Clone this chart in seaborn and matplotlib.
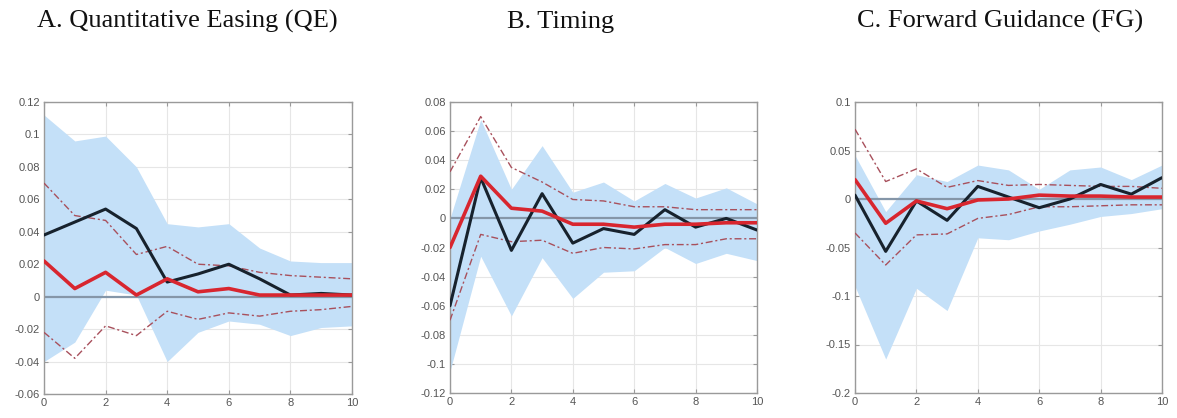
import numpy as np
import pandas as pd
import seaborn as sns
import matplotlib.pyplot as plt

sns.set_style("whitegrid")
plt.rcParams['font.family'] = ['Liberation Sans', 'DejaVu Sans']

horizon = list(range(11))

# A. QE
qe_median = [0.038, 0.046, 0.054, 0.042, 0.009, 0.014, 0.020, 0.011, 0.001, 0.002, 0.001]
qe_mean = [0.022, 0.005, 0.015, 0.001, 0.011, 0.003, 0.005, 0.001, 0.001, 0.001, 0.001]
qe_hi = [0.070, 0.050, 0.047, 0.026, 0.031, 0.020, 0.019, 0.015, 0.013, 0.012, 0.011]
qe_lo = [-0.022, -0.038, -0.018, -0.024, -0.009, -0.014, -0.010, -0.012, -0.009, -0.008, -0.006]
qe_band_hi = [0.112, 0.096, 0.099, 0.080, 0.045, 0.043, 0.045, 0.030, 0.022, 0.021, 0.021]
qe_band_lo = [-0.040, -0.028, 0.004, 0.001, -0.040, -0.022, -0.015, -0.017, -0.024, -0.019, -0.018]

# B. Timing
tm_median = [-0.060, 0.028, -0.022, 0.017, -0.017, -0.007, -0.011, 0.006, -0.006, 0.000, -0.008]
tm_mean = [-0.020, 0.029, 0.007, 0.005, -0.004, -0.004, -0.006, -0.004, -0.004, -0.003, -0.003]
tm_hi = [0.032, 0.070, 0.035, 0.025, 0.013, 0.012, 0.008, 0.008, 0.006, 0.006, 0.006]
tm_lo = [-0.070, -0.011, -0.016, -0.015, -0.024, -0.020, -0.021, -0.018, -0.018, -0.014, -0.014]
tm_band_hi = [0.000, 0.068, 0.020, 0.050, 0.018, 0.025, 0.012, 0.024, 0.014, 0.021, 0.010]
tm_band_lo = [-0.105, -0.026, -0.067, -0.027, -0.055, -0.037, -0.036, -0.020, -0.031, -0.024, -0.029]

# C. FG
fg_median = [0.004, -0.054, -0.002, -0.022, 0.013, 0.002, -0.009, 0.000, 0.015, 0.005, 0.022]
fg_mean = [0.020, -0.025, -0.002, -0.010, -0.001, 0.000, 0.004, 0.003, 0.003, 0.002, 0.002]
fg_hi = [0.072, 0.018, 0.031, 0.012, 0.019, 0.014, 0.015, 0.014, 0.013, 0.013, 0.011]
fg_lo = [-0.035, -0.068, -0.037, -0.036, -0.020, -0.016, -0.008, -0.008, -0.007, -0.006, -0.006]
fg_band_hi = [0.045, -0.013, 0.025, 0.018, 0.035, 0.030, 0.010, 0.030, 0.033, 0.020, 0.035]
fg_band_lo = [-0.090, -0.165, -0.092, -0.115, -0.040, -0.042, -0.033, -0.026, -0.018, -0.015, -0.010]

titles = ["A. Quantitative Easing (QE)", "B. Timing", "C. Forward Guidance (FG)"]
title_x = [37, 507, 857]

panels = [
    (qe_median, qe_mean, qe_hi, qe_lo, qe_band_hi, qe_band_lo, (-0.06, 0.12), np.arange(-0.06, 0.121, 0.02)),
    (tm_median, tm_mean, tm_hi, tm_lo, tm_band_hi, tm_band_lo, (-0.12, 0.08), np.arange(-0.12, 0.081, 0.02)),
    (fg_median, fg_mean, fg_hi, fg_lo, fg_band_hi, fg_band_lo, (-0.2, 0.1), np.arange(-0.2, 0.101, 0.05)),
]

# axes boxes in pixels: left, top, right, bottom
boxes = [(44, 102, 352, 394), (450, 102, 757, 393), (855, 102, 1162, 393)]

W, H = 1177, 418
fig = plt.figure(figsize=(W / 100, H / 100), dpi=100)

for i, (med, mean, hi, lo, bhi, blo, ylim, yt) in enumerate(panels):
    l, t, r, b = boxes[i]
    ax = fig.add_axes([l / W, 1 - b / H, (r - l) / W, (b - t) / H])
    df = pd.DataFrame({"h": horizon, "med": med, "mean": mean, "hi": hi, "lo": lo})

    ax.fill_between(horizon, blo, bhi, color='#c4e0f8', lw=0, zorder=1)
    ax.axhline(0, color='#8596a8', lw=1.6, zorder=2)
    sns.lineplot(data=df, x="h", y="hi", ax=ax, color='#a8505c', lw=1.0,
                 linestyle=(0, (5, 2, 1.5, 2)), zorder=3)
    sns.lineplot(data=df, x="h", y="lo", ax=ax, color='#a8505c', lw=1.0,
                 linestyle=(0, (5, 2, 1.5, 2)), zorder=3)
    sns.lineplot(data=df, x="h", y="med", ax=ax, color='#17222d', lw=2.2, zorder=4)
    sns.lineplot(data=df, x="h", y="mean", ax=ax, color='#d8262f', lw=2.6, zorder=5)

    ax.set_xlim(0, 10)
    ax.set_ylim(*ylim)
    ax.set_xticks(range(0, 11, 2))
    ax.set_yticks(yt)
    ax.set_yticklabels([f"{v:g}" if abs(v) > 1e-9 else "0" for v in np.round(yt, 2)])
    ax.set_xlabel("")
    ax.set_ylabel("")
    ax.grid(True, color='#e6e6e6', lw=0.8)
    ax.set_axisbelow(True)
    for s in ax.spines.values():
        s.set_color('#9a9a9a')
        s.set_linewidth(1.0)
    ax.tick_params(direction='in', length=3, colors='#9a9a9a', labelcolor='#555555',
                   labelsize=8, pad=3, right=True, top=True, left=True, bottom=True)

    fig.text(title_x[i] / W, 1 - 28 / H, titles[i], family='Liberation Serif',
             fontsize=19, ha='left', va='baseline', color='#111111')

fig.savefig("out.png", dpi=100)
